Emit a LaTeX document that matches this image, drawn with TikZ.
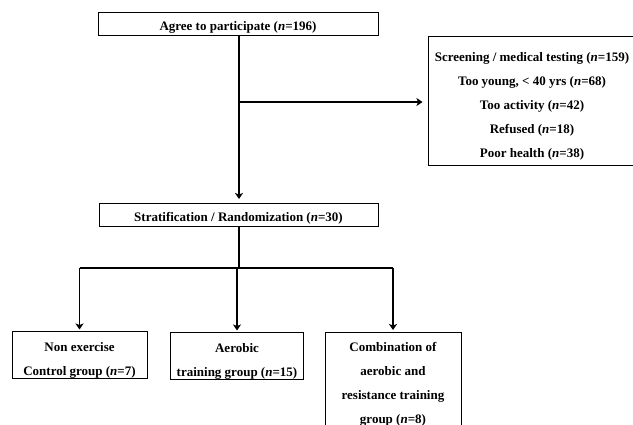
\documentclass[tikz,border=0pt]{standalone}
\usepackage{fontspec}
\setmainfont{Liberation Serif}
\usepackage{tikz}
\usetikzlibrary{calc, arrows.meta}

\begin{document}
\begin{tikzpicture}[x=1pt, y=-1pt,
box/.style={draw, line width=1pt, align=center, inner sep=0pt, text depth=0pt,
  font=\bfseries\fontsize{13}{24}\selectfont},
link/.style={line width=1.6pt},
arr/.style={line width=1.6pt, -{Stealth[length=6pt,width=8pt,inset=1.5pt]}}]
\useasboundingbox (0,0) rectangle (633,425);
\node[box, minimum width=280pt, minimum height=23pt, text height=13pt] (agree) at (238,24.5)
  {Agree to participate (\textit{n}=196)};
\node[box, minimum width=208pt, minimum height=129pt, text height=112pt] (excl) at (532,101.5)
  {Screening / medical testing (\textit{n}=159)\\
   Too young, < 40 yrs (\textit{n}=68)\\
   Too activity (\textit{n}=42)\\
   Refused (\textit{n}=18)\\
   Poor health (\textit{n}=38)};
\node[box, minimum width=279pt, minimum height=23pt, text height=13pt] (strat) at (238.5,215)
  {Stratification / Randomization (\textit{n}=30)};
\node[box, minimum width=135pt, minimum height=47pt, text height=39pt] (ctrl) at (79.5,355.5)
  {Non exercise\\ Control group (\textit{n}=7)};
\node[box, minimum width=133pt, minimum height=47pt, text height=40pt] (aero) at (237,356.5)
  {Aerobic\\ training group (\textit{n}=15)};
\node[box, minimum width=136pt, minimum height=95pt, text height=86pt, anchor=north] (comb) at (393,332)
  {Combination of\\ aerobic and\\ resistance training\\ group (\textit{n}=8)};
% flow
\draw[arr, shorten >=4pt] (agree.south -| 239,0) -- (strat.north -| 239,0);
\coordinate (excl split) at (239,102);
\draw[arr, shorten >=5pt] (excl split) -- (excl split -| excl.west);
\coordinate (grp split) at (239,268);
\draw[link] (strat.south -| grp split) -- (grp split);
\draw[link] (grp split -| ctrl) -- (grp split -| comb);
\foreach \g in {ctrl, aero, comb}
  \draw[arr, shorten >=2pt] (grp split -| \g) -- (\g.north);
\end{tikzpicture}
\end{document}
